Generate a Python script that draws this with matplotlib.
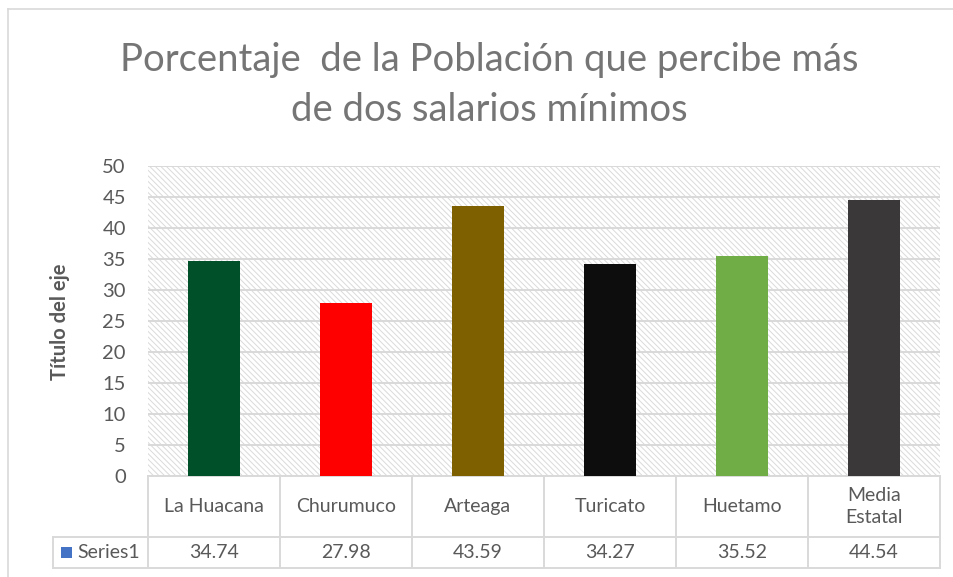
import matplotlib
matplotlib.use("Agg")
import matplotlib.pyplot as plt
from matplotlib.lines import Line2D
from matplotlib.patches import Rectangle

plt.rcParams['font.family'] = ['Lato', 'DejaVu Sans']
plt.rcParams['hatch.linewidth'] = 0.7
plt.rcParams['hatch.color'] = '#dadada'

# data
municipios = ['La Huacana', 'Churumuco', 'Arteaga', 'Turicato', 'Huetamo', 'Media\nEstatal']
porcentaje = [34.74, 27.98, 43.59, 34.27, 35.52, 44.54]
colores = ['#00502a', '#ff0000', '#7f6000', '#0d0d0d', '#70ad47', '#3a3838']
serie = 'Series1'
titulo = 'Porcentaje  de la Población que percibe más\nde dos salarios mínimos'

W, H = 954, 577
fig = plt.figure(figsize=(W / 100, H / 100), dpi=100)
ax = fig.add_axes([148 / W, 1 - 476 / H, (940 - 148) / W, (476 - 166) / H])

# hatched plot area
ax.patch.set_facecolor('white')
ax.add_patch(Rectangle((0, 0), 1, 1, transform=ax.transAxes, facecolor='white',
                       edgecolor='#dadada', hatch='\\' * 6, linewidth=0, zorder=0))

x = list(range(len(municipios)))
ax.bar(x, porcentaje, width=0.4, color=colores, zorder=3)

ax.set_xlim(-0.5, len(municipios) - 0.5)
ax.set_ylim(0, 50)
ax.set_yticks(range(0, 51, 5))
ax.yaxis.grid(True, color='#d9d9d9', linewidth=1.4, zorder=1)
ax.set_axisbelow(True)
ax.set_xticks([])
ax.tick_params(axis='y', length=0, pad=16, labelsize=14.5, labelcolor='#595959')
for s in ['top', 'right', 'left']:
    ax.spines[s].set_visible(False)
ax.spines['bottom'].set_color('#d9d9d9')
ax.spines['bottom'].set_linewidth(1.4)

# data table below the axis
tr = ax.get_xaxis_transform()
lc = '#d9d9d9'
y1, y2, y3 = 0, -61 / 310, -92 / 310
xl = -0.5 - 95 / 132
n = len(municipios)
for i in range(n + 1):
    ax.add_line(Line2D([i - 0.5, i - 0.5], [y1, y3], transform=tr, color=lc,
                       lw=1.4, clip_on=False))
ax.add_line(Line2D([xl, n - 0.5], [y2, y2], transform=tr, color=lc, lw=1.4, clip_on=False))
ax.add_line(Line2D([xl, n - 0.5], [y3, y3], transform=tr, color=lc, lw=1.4, clip_on=False))
ax.add_line(Line2D([xl, xl], [y2, y3], transform=tr, color=lc, lw=1.4, clip_on=False))

for i, (m, v) in enumerate(zip(municipios, porcentaje)):
    ax.text(i, (y1 + y2) / 2, m, transform=tr, ha='center', va='center',
            fontsize=14, color='#595959', linespacing=1.35)
    ax.text(i, (y2 + y3) / 2, f'{v:.2f}', transform=tr, ha='center', va='center',
            fontsize=14, color='#595959')

fig.add_artist(Rectangle((61 / W, 1 - 558 / H), 11 / W, 11 / H, transform=fig.transFigure,
                         facecolor='#4472c4', edgecolor='none'))
fig.text(77 / W, 1 - 552 / H, serie, ha='left', va='center', fontsize=14, color='#595959')

# title and axis title
fig.text(489 / W, 1 - 85 / H, titulo, ha='center', va='center', fontsize=27.5,
         color='#757575', linespacing=1.45)
fig.text(60 / W, 1 - 322 / H, 'Título del eje', rotation=90, ha='center', va='center',
         fontsize=14.5, fontweight='bold', color='#595959')

# chart border (left and top visible)
fig.add_artist(Line2D([8.5 / W, 8.5 / W], [0, 1 - 8.5 / H], color='#d9d9d9', lw=1.2))
fig.add_artist(Line2D([8.5 / W, 1], [1 - 8.5 / H, 1 - 8.5 / H], color='#d9d9d9', lw=1.2))

fig.savefig('out.png', dpi=100)
